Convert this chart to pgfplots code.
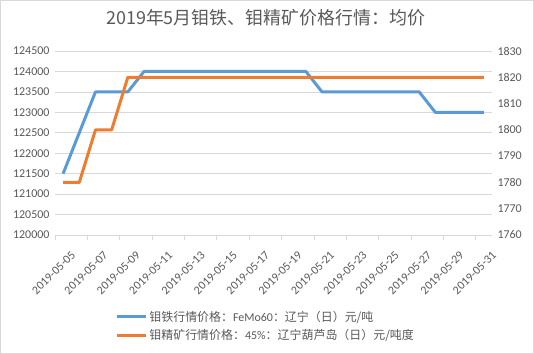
\documentclass[border=0pt]{standalone}
\usepackage{pgfplots}
\pgfplotsset{compat=1.18}
\usepackage{fontspec}
\setmainfont{Carlito}
\newfontfamily\cjk{Noto Sans CJK SC}
\definecolor{txt}{HTML}{595959}
\definecolor{gridc}{HTML}{D9D9D9}
\definecolor{blu}{HTML}{5B9BD5}
\definecolor{org}{HTML}{ED7D31}
\pgfplotsset{
  common/.style={
    at={(55bp,119bp)}, anchor=south west,
    scale only axis, width=437bp, height=184bp,
    xmin=-0.5, xmax=26.5,
    clip=false,
    scaled y ticks=false,
    /pgf/number format/.cd, fixed, precision=0, 1000 sep={}, assume math mode=true, /pgfplots/.cd,
    tick label style={font=\fontsize{12}{14}\selectfont, text=txt},
    y axis line style={draw=none},
    major y tick style={draw=none},
  }
}
\begin{document}
\begin{tikzpicture}
\path[use as bounding box] (0bp,0bp) rectangle (534bp,354bp);
\draw[gridc, line width=0.75bp] (0.5bp,0.5bp) rectangle (533.5bp,353.5bp);
\begin{axis}[common,
  ymin=120000, ymax=124500,
  ytick={120000,120500,121000,121500,122000,122500,123000,123500,124000,124500},
  axis x line*=bottom, axis y line*=left,
  x axis line style={gridc, line width=0.75bp},
  ymajorgrids, grid style={gridc, line width=0.75bp},
  xtick={0,2,...,26},
  xticklabels={2019-05-05,2019-05-07,2019-05-09,2019-05-11,2019-05-13,2019-05-15,2019-05-17,2019-05-19,2019-05-21,2019-05-23,2019-05-25,2019-05-27,2019-05-29,2019-05-31},
  major x tick style={draw=none},
  minor xtick={-0.5,1.5,...,25.5},
  minor x tick style={gridc, line width=0.75bp},
  tick align=outside, minor tick length=5bp, major tick length=0bp,
  xticklabel style={rotate=45, anchor=east, xshift=-2bp, yshift=-20bp},
  yticklabel style={xshift=-2bp},
  title={2019年5月钼铁、钼精矿价格行情：均价},
  title style={at={(axis description cs:0.482,1.148)}, anchor=center, font=\cjk\fontsize{18}{22}\selectfont, text=txt},
]
\addplot[blu, line width=3bp, line join=round] coordinates {
(0,121500) (1,122500) (2,123500) (3,123500) (4,123500)
(5,124000) (6,124000) (7,124000) (8,124000) (9,124000) (10,124000)
(11,124000) (12,124000) (13,124000) (14,124000) (15,124000)
(16,123500) (17,123500) (18,123500) (19,123500) (20,123500) (21,123500) (22,123500)
(23,123000) (24,123000) (25,123000) (26,123000)};
\end{axis}
\begin{axis}[common,
  ymin=1760, ymax=1830,
  ytick={1760,1770,1780,1790,1800,1810,1820,1830},
  axis y line*=right, axis x line=none,
  yticklabel style={xshift=2bp},
  legend cell align=left,
  legend image code/.code={\draw[#1] (0bp,0bp) -- (29bp,0bp);},
  legend style={at={(axis description cs:0.131,-0.39)}, anchor=north west, draw=none, fill=none,
    font=\fontsize{12}{14}\selectfont, text=txt, row sep=3bp},
]
\addlegendimage{blu, line width=3bp}
\addlegendentry{{\cjk 钼铁行情价格：}FeMo60{\cjk ：辽宁（日）元/吨}}
\addplot[org, line width=3bp, line join=round] coordinates {
(0,1780) (1,1780) (2,1800) (3,1800)
(4,1820) (5,1820) (6,1820) (7,1820) (8,1820) (9,1820) (10,1820)
(11,1820) (12,1820) (13,1820) (14,1820) (15,1820) (16,1820) (17,1820)
(18,1820) (19,1820) (20,1820) (21,1820) (22,1820) (23,1820) (24,1820)
(25,1820) (26,1820)};
\addlegendentry{{\cjk 钼精矿行情价格：}45\%{\cjk ：辽宁葫芦岛（日）元/吨度}}
\end{axis}
\end{tikzpicture}
\end{document}
